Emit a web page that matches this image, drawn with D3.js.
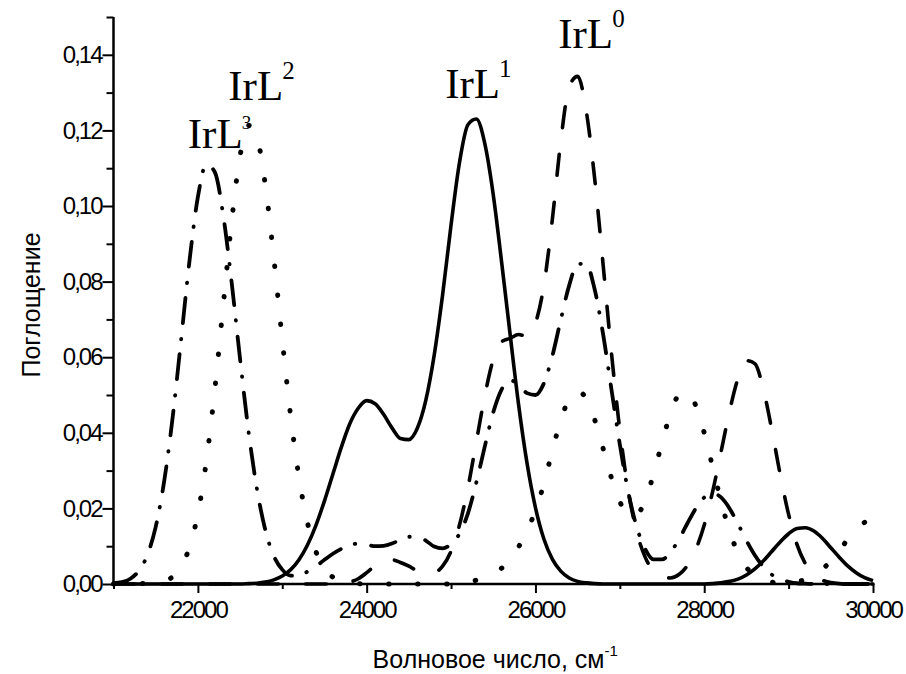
<!DOCTYPE html>
<html>
<head>
<meta charset="utf-8">
<script src="https://cdn.jsdelivr.net/npm/d3@7/dist/d3.min.js"></script>
<style>
body{margin:0;background:#fff;}
#chart{width:906px;height:674px;}
.ax text{font-family:"Liberation Sans",Arial,sans-serif;font-size:24px;letter-spacing:-2px;fill:#000;}
.ax path,.ax line{stroke:#000;}
.title{font-family:"Liberation Sans",Arial,sans-serif;font-size:25px;fill:#000;}
.lbl{font-family:"Liberation Serif","Times New Roman",serif;font-size:43px;fill:#000;}
</style>
</head>
<body>
<div id="chart"></div>
<script>
// волновое число, шаг 100 см-1
var wavenumbers = d3.range(21000, 30001, 100);

// IrL0 - штриховая
var irL0 = [0,0,0,0,0,0,0,0,0,0,
    0,0,0,0,0,0,0,0,0,0,
    0,0,0,0,0,0,0,0.0001,0.0005,0.0014,
    0.0030,0.0049,0.0063,0.0064,0.0057,0.0047,0.0035,0.0028,0.0030,0.0047,
    0.0087,0.0156,0.0255,0.0377,0.0498,0.0594,0.0641,0.0650,0.0660,0.0655,
    0.0690,0.0790,0.0964,0.1171,0.1316,0.1343,0.1254,0.1076,0.0849,0.0613,
    0.0407,0.0247,0.0138,0.0071,0.0034,0.0018,0.0016,0.0025,0.0049,0.0091,
    0.0156,0.0245,0.0350,0.0457,0.0544,0.0591,0.0583,0.0516,0.0409,0.0290,
    0.0184,0.0104,0.0053,0.0024,0.0010,0.0004,0.0001,0,0,0,
    0];

// IrL1 - сплошная
var irL1 = [0,0,0,0,0,0,0,0,0,0,
    0,0,0,0,0,0,0.0001,0.0002,0.0005,0.0011,
    0.0021,0.0038,0.0065,0.0104,0.0156,0.0220,0.0291,0.0362,0.0424,0.0465,
    0.0485,0.0477,0.0449,0.0413,0.0385,0.0382,0.0412,0.0485,0.0605,0.0765,
    0.0950,0.1115,0.1215,0.1230,0.1165,0.1030,0.0850,0.0660,0.0475,0.0320,
    0.0202,0.0119,0.0066,0.0034,0.0016,0.0007,0.0003,0.0001,0,0,
    0,0,0,0,0,0,0,0,0,0,
    0,0.0001,0.0003,0.0007,0.0013,0.0024,0.0040,0.0061,0.0086,0.0111,
    0.0133,0.0147,0.0149,0.0140,0.0121,0.0096,0.0071,0.0048,0.0030,0.0017,
    0.0009];

// IrL2 - пунктир
var irL2 = [0,0,0,0.0001,0.0001,0.0003,0.0008,0.0019,0.0046,0.0097,
    0.0186,0.0325,0.0513,0.0737,0.0959,0.1133,0.1213,0.1181,0.1054,0.0862,
    0.0646,0.0443,0.0279,0.0161,0.0085,0.0041,0.0018,0.0007,0.0003,0.0001,
    0,0,0,0,0,0,0,0,0,0,
    0,0,0.0005,0.0010,0.0018,0.0028,0.0042,0.0062,0.0098,0.0140,
    0.0195,0.0265,0.0353,0.0433,0.0490,0.0510,0.0491,0.0436,0.0360,0.0281,
    0.0218,0.0182,0.0184,0.0222,0.0291,0.0374,0.0451,0.0500,0.0508,0.0472,
    0.0400,0.0309,0.0218,0.0140,0.0082,0.0044,0.0022,0.0010,0.0005,0.0002,
    0.0003,0.0006,0.0012,0.0023,0.0039,0.0061,0.0088,0.0118,0.0144,0.0163,
    0.0170];

// IrL3 - штрих-пунктир
var irL3 = [0.0002,0.0005,0.0014,0.0035,0.0076,0.0151,0.0271,0.0439,0.0644,0.0854,
    0.1024,0.1110,0.1090,0.0976,0.0798,0.0595,0.0404,0.0251,0.0142,0.0074,
    0.0038,0.0022,0.0023,0.0033,0.0047,0.0064,0.0080,0.0093,0.0103,0.0107,
    0.0104,0.0100,0.0101,0.0107,0.0117,0.0125,0.0124,0.0115,0.0099,0.0094,
    0.0106,0.0133,0.0187,0.0269,0.0364,0.0454,0.0515,0.0539,0.0528,0.0505,
    0.0500,0.0531,0.0603,0.0699,0.0790,0.0847,0.0847,0.0781,0.0663,0.0516,
    0.0369,0.0243,0.0151,0.0093,0.0065,0.0065,0.0084,0.0118,0.0160,0.0200,
    0.0229,0.0240,0.0229,0.0200,0.0159,0.0115,0.0076,0.0046,0.0025,0.0013,
    0.0006,0.0002,0.0001,0,0,0,0,0,0,0,
    0];

var xMajorTicks = [22000, 24000, 26000, 28000, 30000];
var xMinorTicks = [21000, 23000, 25000, 27000, 29000];
var yMajorTicks = [0, 0.02, 0.04, 0.06, 0.08, 0.10, 0.12, 0.14];
var yMinorTicks = [0.01, 0.03, 0.05, 0.07, 0.09, 0.11, 0.13, 0.15];
var seriesNames = ['IrL0', 'IrL1', 'IrL2', 'IrL3'];

function SpectrumChart(){
    var width, height;
    var margin = {top:17, right:33, bottom:90, left:113.5};
    var plotWidth, plotHeight;
    var xs = d3.scaleLinear(), ys = d3.scaleLinear();
    var series = [];

    function chart(selection){
        selection.each(function(){
            var el = d3.select(this);
            el.html("");
            var limits = el.node().getBoundingClientRect();
            width = limits.width;
            height = limits.height;
            plotWidth = width - margin.left - margin.right;
            plotHeight = height - margin.top - margin.bottom;

            var svg = el.append('svg').attr('width', width).attr('height', height);
            var g = svg.append('g')
                .attr('transform', 'translate(' + margin.left + ',' + margin.top + ')');

            xs.domain([21000, 30000]).range([0, plotWidth]);
            ys.domain([0, 0.15]).range([plotHeight, 0]);

            var comma = function(d){ return d3.format('.2f')(d).replace('.', ','); };
            var thick = function(a){ a.select('.domain').remove(); a.selectAll('line').attr('stroke-width', 2); };

            // оси: малые деления, потом основные
            g.append('g').attr('class', 'ax')
                .attr('transform', 'translate(0,' + plotHeight + ')')
                .call(d3.axisBottom(xs).tickValues(xMinorTicks).tickSize(5).tickFormat('').tickSizeOuter(0))
                .call(thick);
            g.append('g').attr('class', 'ax')
                .attr('transform', 'translate(0,' + plotHeight + ')')
                .call(d3.axisBottom(xs).tickValues(xMajorTicks).tickSize(9).tickPadding(8)
                    .tickFormat(d3.format('d')).tickSizeOuter(0))
                .call(thick);
            g.append('g').attr('class', 'ax')
                .call(d3.axisLeft(ys).tickValues(yMinorTicks).tickSize(7).tickFormat('').tickSizeOuter(0))
                .call(thick);
            g.append('g').attr('class', 'ax')
                .call(d3.axisLeft(ys).tickValues(yMajorTicks).tickSize(11).tickPadding(1).tickFormat(comma).tickSizeOuter(0))
                .call(thick);

            g.append('line').attr('x1', 0).attr('x2', 0).attr('y1', 0).attr('y2', plotHeight + 1)
                .attr('stroke', '#000').attr('stroke-width', 2.5);
            g.append('line').attr('x1', -1).attr('x2', plotWidth).attr('y1', plotHeight).attr('y2', plotHeight)
                .attr('stroke', '#000').attr('stroke-width', 2.5);

            var line = d3.line()
                .x(function(d, i){ return xs(wavenumbers[i]); })
                .y(function(d){ return ys(d); })
                .curve(d3.curveMonotoneX);

            g.selectAll('path.curve').data(series).enter().append('path')
                .attr('class', 'curve')
                .attr('d', function(s){ return line(s.values); })
                .attr('fill', 'none')
                .attr('stroke', '#000')
                .attr('stroke-width', function(s){ return s.width; })
                .attr('stroke-linecap', function(s){ return s.dash ? 'round' : 'butt'; })
                .attr('stroke-linejoin', 'round')
                .attr('stroke-dasharray', function(s){ return s.dash; });

            // подписи у максимумов: [x, y, размер индекса, подъём индекса]
            var labelPos = {
                IrL3:[21880, 0.1153, 19, -19],
                IrL2:[22360, 0.1280, 25, -21],
                IrL1:[24930, 0.1286, 25, -21],
                IrL0:[26270, 0.1418, 25, -21]
            };
            series.forEach(function(s){
                var p = labelPos[s.name];
                var t = g.append('text').attr('class', 'lbl')
                    .attr('x', xs(p[0])).attr('y', ys(p[1]));
                t.append('tspan').text(s.name.slice(0, 3));
                t.append('tspan').attr('dx', -1).attr('dy', p[3]).style('font-size', p[2] + 'px').text(s.name.slice(3));
            });

            svg.append('text').attr('class', 'title')
                .attr('transform', 'translate(40,305) rotate(-90)')
                .attr('text-anchor', 'middle')
                .text('Поглощение');

            var xt = svg.append('text').attr('class', 'title')
                .attr('x', margin.left + plotWidth / 2 + 2).attr('y', 668)
                .attr('text-anchor', 'middle');
            xt.append('tspan').text('Волновое число, см');
            xt.append('tspan').attr('dy', -12).style('font-size', '15px').text('-1');
        });
    }

    chart.series = function(s){
        if(!arguments.length) return series;
        series = s;
        return chart;
    };

    return chart;
}

var styles = {
    IrL0: {dash:'21 27', width:3.6},
    IrL1: {dash:null, width:3.6},
    IrL2: {dash:'0.5 28.5', width:5},
    IrL3: {dash:'25 15 0.5 16', width:3.8}
};
var allValues = {IrL0: irL0, IrL1: irL1, IrL2: irL2, IrL3: irL3};

var chart = SpectrumChart().series(seriesNames.map(function(n){
    return {name:n, values:allValues[n], dash:styles[n].dash, width:styles[n].width};
}));
d3.select('#chart').call(chart);
</script>
</body>
</html>
